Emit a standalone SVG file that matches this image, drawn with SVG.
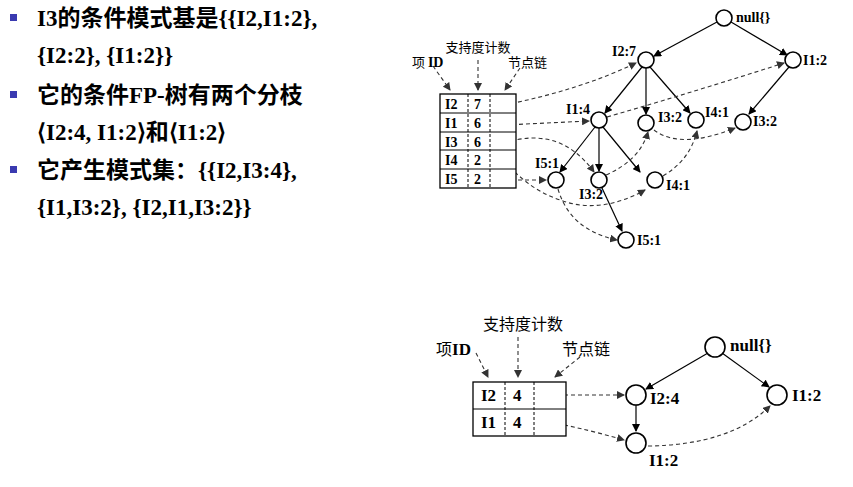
<svg xmlns="http://www.w3.org/2000/svg" width="853" height="487" viewBox="0 0 853 487">
<defs>
<marker id="a" markerWidth="8" markerHeight="8" refX="7" refY="4" orient="auto" markerUnits="userSpaceOnUse"><path d="M0,0 L8,4 L0,8 Z" fill="#000"/></marker>
<marker id="d" markerWidth="8" markerHeight="8" refX="7" refY="4" orient="auto" markerUnits="userSpaceOnUse"><path d="M0,0 L8,4 L0,8 Z" fill="#333"/></marker>
</defs>
<style>
.t{font-family:"Liberation Serif","Noto Sans CJK SC",serif;font-weight:bold;font-size:23px;fill:#000}
.n{font-family:"Liberation Serif",serif;font-weight:bold;font-size:14px;fill:#000}
.c{font-family:"Noto Sans CJK SC",sans-serif;font-size:13px;fill:#000}
.cb{font-family:"Noto Sans CJK SC",sans-serif;font-size:16px;fill:#000}
.nb{font-family:"Liberation Serif",serif;font-weight:bold;font-size:17px;fill:#000}
circle{fill:#fff;stroke:#000;stroke-width:1.6}
.e{stroke:#000;stroke-width:1.2;fill:none;marker-end:url(#a)}
.k{stroke:#333;stroke-width:1.1;stroke-dasharray:4 3;fill:none;marker-end:url(#d)}
.b{fill:#fff;stroke:#000;stroke-width:1.3}
.v{stroke:#000;stroke-width:1;stroke-dasharray:3 2}
</style>
<g id="text">
<rect x="10" y="14" width="7" height="7" fill="#3a3ab0"/>
<text class="t" x="37" y="26">I3的条件模式基是{{I2,I1:2},</text>
<text class="t" x="37" y="63">{I2:2}, {I1:2}}</text>
<rect x="10" y="91" width="7" height="7" fill="#3a3ab0"/>
<text class="t" x="37" y="103">它的条件FP-树有两个分枝</text>
<text class="t" x="37" y="140">⟨I2:4, I1:2⟩和⟨I1:2⟩</text>
<rect x="10" y="166" width="7" height="7" fill="#3a3ab0"/>
<text class="t" x="37" y="178">它产生模式集：{{I2,I3:4},</text>
<text class="t" x="37" y="215">{I1,I3:2}, {I2,I1,I3:2}}</text>
</g>
<g id="connectors">
<line class="e" x1="717" y1="22" x2="654" y2="56"/>
<line class="e" x1="731" y1="22" x2="787" y2="55"/>
<line class="e" x1="642" y1="67" x2="605" y2="113"/>
<line class="e" x1="646" y1="68" x2="646" y2="114"/>
<line class="e" x1="650" y1="67" x2="690" y2="113"/>
<line class="e" x1="789" y1="67" x2="749" y2="114"/>
<line class="e" x1="595" y1="127" x2="560" y2="172"/>
<line class="e" x1="599" y1="128" x2="599" y2="171"/>
<line class="e" x1="603" y1="127" x2="640" y2="172"/>
<line class="e" x1="602" y1="188" x2="622" y2="231"/>
<path class="k" d="M504,105 Q580,90 636,63"/>
<path class="k" d="M505,125 L589,121"/>
<path class="k" d="M607,117 Q700,90 784,63"/>
<path class="k" d="M504,143 Q560,125 594,172"/>
<path class="k" d="M505,162 Q530,190 560,200 Q600,215 645,190"/>
<path class="k" d="M504,180 L546,180"/>
<path class="k" d="M606,175 Q640,160 648,132"/>
<path class="k" d="M654,130 Q680,150 735,128"/>
<path class="k" d="M663,176 Q690,160 697,131"/>
<path class="k" d="M558,189 Q570,230 617,240"/>
<path class="k" d="M433,66 L450,90"/>
<path class="k" d="M478,60 L478,90"/>
<path class="k" d="M520,68 L505,90"/>
<line class="e" x1="708" y1="353" x2="646" y2="389"/>
<line class="e" x1="722" y1="353" x2="769" y2="387"/>
<line class="e" x1="636" y1="405" x2="636" y2="431"/>
<path class="k" d="M550,395 L624,395"/>
<path class="k" d="M550,422 Q590,430 624,440"/>
<path class="k" d="M648,446 Q730,445 770,406"/>
<path class="k" d="M476,353 L488,377"/>
<path class="k" d="M518,337 L518,377"/>
<path class="k" d="M580,357 L555,377"/>
</g>
<g id="table1">
<rect class="b" x="440" y="94" width="76" height="94"/>
<line x1="440" y1="113" x2="516" y2="113" stroke="#000"/>
<line x1="440" y1="132" x2="516" y2="132" stroke="#000"/>
<line x1="440" y1="150" x2="516" y2="150" stroke="#000"/>
<line x1="440" y1="169" x2="516" y2="169" stroke="#000"/>
<line class="v" x1="468" y1="94" x2="468" y2="188"/>
<line class="v" x1="490" y1="94" x2="490" y2="188"/>
<text class="n" x="445" y="109">I2</text><text class="n" x="474" y="109">7</text>
<text class="n" x="445" y="128">I1</text><text class="n" x="474" y="128">6</text>
<text class="n" x="445" y="147">I3</text><text class="n" x="474" y="147">6</text>
<text class="n" x="445" y="165">I4</text><text class="n" x="474" y="165">2</text>
<text class="n" x="445" y="184">I5</text><text class="n" x="474" y="184">2</text>
<text class="c" x="478" y="52" text-anchor="middle">支持度计数</text>
<text class="c" x="412" y="67">项 <tspan class="n">ID</tspan></text>
<text class="c" x="508" y="67">节点链</text>
</g>
<g id="tree1">
<circle cx="724" cy="18" r="8"/><text class="n" x="736" y="22">null{}</text>
<circle cx="646" cy="60" r="8"/><text class="n" x="612" y="56">I2:7</text>
<circle cx="793" cy="60" r="8"/><text class="n" x="803" y="65">I1:2</text>
<circle cx="599" cy="120" r="8"/><text class="n" x="566" y="114">I1:4</text>
<circle cx="646" cy="123" r="8"/><text class="n" x="658" y="122">I3:2</text>
<circle cx="696" cy="120" r="8"/><text class="n" x="705" y="117">I4:1</text>
<circle cx="743" cy="122" r="8"/><text class="n" x="753" y="126">I3:2</text>
<circle cx="556" cy="180" r="8"/><text class="n" x="535" y="168">I5:1</text>
<circle cx="599" cy="180" r="8"/><text class="n" x="579" y="199">I3:2</text>
<circle cx="655" cy="180" r="8"/><text class="n" x="666" y="190">I4:1</text>
<circle cx="626" cy="240" r="8"/><text class="n" x="637" y="245">I5:1</text>
</g>
<g id="table2">
<rect class="b" x="473" y="382" width="93" height="54"/>
<line x1="473" y1="409" x2="566" y2="409" stroke="#000"/>
<line class="v" x1="505" y1="382" x2="505" y2="436"/>
<line class="v" x1="534" y1="382" x2="534" y2="436"/>
<text class="nb" x="481" y="401">I2</text><text class="nb" x="513" y="401">4</text>
<text class="nb" x="481" y="428">I1</text><text class="nb" x="513" y="428">4</text>
<text class="cb" x="523" y="330" text-anchor="middle">支持度计数</text>
<text class="cb" x="436" y="355">项<tspan class="nb">ID</tspan></text>
<text class="cb" x="562" y="355">节点链</text>
</g>
<g id="tree2">
<circle cx="715" cy="347" r="10"/><text class="nb" x="730" y="351">null{}</text>
<circle cx="636" cy="395" r="10"/><text class="nb" x="650" y="404">I2:4</text>
<circle cx="777" cy="395" r="10"/><text class="nb" x="792" y="401">I1:2</text>
<circle cx="636" cy="443" r="10"/><text class="nb" x="649" y="466">I1:2</text>
</g>
</svg>
